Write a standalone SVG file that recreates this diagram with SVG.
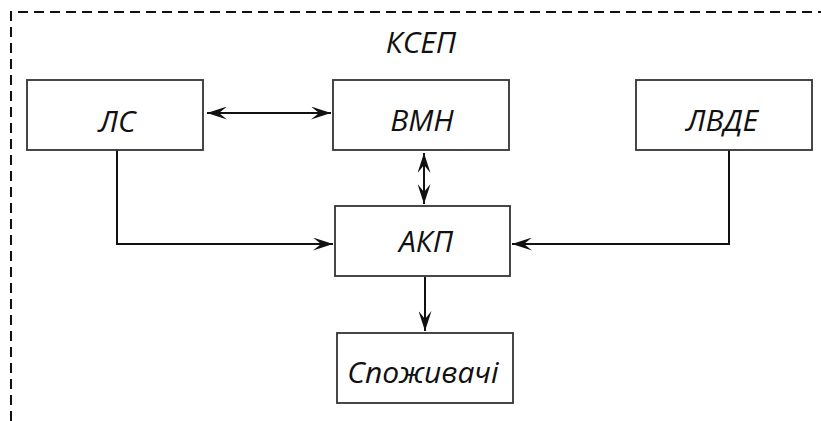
<svg xmlns="http://www.w3.org/2000/svg" width="821" height="421" viewBox="0 0 821 421">
<style>
.box{fill:#fff;stroke:#333;stroke-width:1.8}
.lbl{font-family:"Open Sans","DejaVu Sans",sans-serif;font-style:italic;font-size:30px;fill:#111;text-anchor:middle}
.con{fill:none;stroke:#111;stroke-width:2}
.border{fill:none;stroke:#111;stroke-width:2;stroke-dasharray:10 6}
</style>
<defs>
<marker id="ah" viewBox="0 0 20 13" refX="20" refY="6.5" markerWidth="20" markerHeight="13" markerUnits="userSpaceOnUse" orient="auto-start-reverse">
<path d="M0,0 L20,6.5 L0,13 L8,6.5 z" fill="#111"/>
</marker>
</defs>
<rect width="821" height="421" fill="#fff"/>
<path class="border" d="M11,421 V12 H821"/>
<text class="lbl" x="421" y="53">КСЕП</text>
<g id="connectors">
<path class="con" d="M207,113 H331" marker-start="url(#ah)" marker-end="url(#ah)"/>
<path class="con" d="M424,153 V204" marker-start="url(#ah)" marker-end="url(#ah)"/>
<path class="con" d="M117,150 V244 H333" marker-end="url(#ah)"/>
<path class="con" d="M729,150 V244 H512" marker-end="url(#ah)"/>
<path class="con" d="M425,277 V331" marker-end="url(#ah)"/>
</g>
<g id="node-ls">
<rect class="box" x="27" y="80" width="176" height="70"/>
<text class="lbl" x="117" y="132">ЛС</text>
</g>
<g id="node-vmn">
<rect class="box" x="333" y="80" width="176" height="70"/>
<text class="lbl" x="422" y="131">ВМН</text>
</g>
<g id="node-lvde">
<rect class="box" x="636" y="80" width="176" height="70"/>
<text class="lbl" x="722" y="131">ЛВДЕ</text>
</g>
<g id="node-akp">
<rect class="box" x="335" y="206" width="175" height="70"/>
<text class="lbl" x="426" y="252">АКП</text>
</g>
<g id="node-spozhyvachi">
<rect class="box" x="337" y="333" width="176" height="70"/>
<text class="lbl" x="423" y="383">Споживачі</text>
</g>
</svg>
